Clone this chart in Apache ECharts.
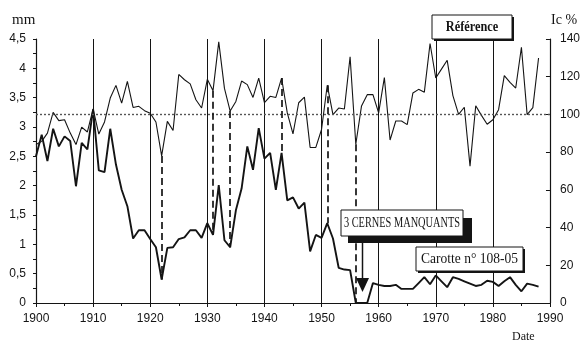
<!DOCTYPE html>
<html>
<head>
<meta charset="utf-8">
<script src="https://cdn.jsdelivr.net/npm/echarts@6/dist/echarts.min.js"></script>
<style>
  html, body { margin: 0; padding: 0; background: #fff; }
  #chart { width: 583px; height: 341px; }
</style>
</head>
<body>
<div id="chart"></div>
<script>
// Years of the series (1900 - 1988)
const years = [];
for (let y = 1900; y <= 1988; y++) years.push(y);

// Ring width, mm (left axis)
const ringWidth = [
  2.50, 2.87, 2.42, 2.97, 2.67, 2.84, 2.76, 1.99, 2.73, 2.62,
  3.30, 2.26, 2.23, 2.97, 2.36, 1.93, 1.65, 1.10, 1.24, 1.24,
  1.09, 0.95, 0.40, 0.94, 0.95, 1.09, 1.12, 1.24, 1.24, 1.11,
  1.36, 1.16, 2.01, 1.07, 0.95, 1.58, 1.95, 2.67, 2.27, 2.98,
  2.46, 2.56, 1.93, 2.56, 1.75, 1.80, 1.61, 1.71, 0.88, 1.16,
  1.11, 1.36, 1.10, 0.60, 0.57, 0.56, 0.00, 0.00, 0.00, 0.34,
  0.31, 0.29, 0.29, 0.31, 0.24, 0.24, 0.24, 0.34, 0.44, 0.32,
  0.47, 0.37, 0.27, 0.44, 0.41, 0.37, 0.33, 0.29, 0.31, 0.38,
  0.36, 0.29, 0.37, 0.44, 0.31, 0.20, 0.33, 0.31, 0.28
];

// Growth index Ic, % (right axis)
const growthIndex = [
  84.0, 85.7, 90.1, 101.1, 96.7, 97.2, 90.1, 84.0, 93.3, 90.7,
  103.0, 89.6, 96.0, 108.7, 115.4, 106.0, 117.5, 103.7, 104.3, 102.0,
  100.6, 96.0, 78.0, 96.3, 91.5, 121.2, 118.4, 116.2, 107.8, 103.4,
  118.6, 112.6, 138.5, 113.8, 101.8, 106.9, 117.7, 115.8, 109.0, 119.3,
  106.2, 109.6, 109.0, 119.3, 100.8, 89.7, 106.2, 109.2, 82.5, 82.5,
  92.0, 115.5, 99.9, 103.4, 102.9, 130.6, 84.2, 104.5, 110.5, 110.5,
  100.8, 119.5, 86.4, 96.5, 96.5, 94.6, 111.4, 113.3, 111.8, 137.6,
  119.3, 124.0, 128.7, 110.0, 100.0, 103.8, 72.6, 104.6, 99.5, 94.8,
  97.2, 102.5, 120.6, 117.0, 114.0, 135.6, 99.9, 103.6, 129.9
];

// Years where a low index is linked to the ring width
const linkedYears = [1922, 1931, 1934, 1943, 1951, 1956];

// Axis ranges
const mmMax = 4.5, mmStep = 0.5;
const icMax = 140, icStep = 20;
const icReference = 100;

const ink = '#141414';
const sans = '"Liberation Sans", Arial, sans-serif';
const serif = '"Liberation Serif", "DejaVu Serif", serif';

const widthSeries = years.map((y, i) => [y, ringWidth[i]]);
const indexSeries = years.map((y, i) => [y, growthIndex[i]]);

// Dashed connectors: index value expressed on the mm scale
const links = linkedYears.map(y => {
  const i = years.indexOf(y);
  return [
    { coord: [y, growthIndex[i] * mmMax / icMax] },
    { coord: [y, ringWidth[i]] }
  ];
});

// Horizontally condensed text label for the annotation boxes
function boxText(text, x, y, font, sx) {
  return {
    type: 'text', x: x, y: y, scaleX: sx, z: 22,
    style: { text: text, font: font, fill: ink, align: 'center', verticalAlign: 'middle' }
  };
}

const chart = echarts.init(document.getElementById('chart'), null, { renderer: 'canvas' });

chart.setOption({
  animation: false,
  backgroundColor: '#fff',
  grid: { left: 36, right: 31, top: 39, bottom: 38 },
  xAxis: {
    type: 'value', min: 1900, max: 1990, interval: 10,
    axisLine: { show: true, lineStyle: { color: ink, width: 1.2 } },
    axisTick: { show: true, length: 4, lineStyle: { color: ink } },
    minorTick: { show: true, splitNumber: 2, length: 3, lineStyle: { color: ink } },
    splitLine: { show: true, lineStyle: { color: ink, width: 1 } },
    axisLabel: { color: ink, fontFamily: sans, fontSize: 12, margin: 10, formatter: v => String(v) }
  },
  yAxis: [
    {
      type: 'value', min: 0, max: mmMax, interval: mmStep,
      axisLine: { show: true, lineStyle: { color: ink, width: 1.2 } },
      axisTick: { show: true, length: 3, lineStyle: { color: ink } },
      minorTick: { show: true, splitNumber: 2, length: 3, lineStyle: { color: ink } },
      splitLine: { show: false },
      axisLabel: { color: ink, fontFamily: sans, fontSize: 12, margin: 10,
        formatter: v => String(v).replace('.', ',') }
    },
    {
      type: 'value', min: 0, max: icMax, interval: icStep, position: 'right',
      axisLine: { show: true, lineStyle: { color: ink, width: 1.2 } },
      axisTick: { show: true, inside: true, length: 4, lineStyle: { color: ink } },
      splitLine: { show: false },
      axisLabel: { color: ink, fontFamily: sans, fontSize: 12, margin: 10 }
    }
  ],
  series: [
    {
      name: 'Ic', type: 'line', yAxisIndex: 1, data: indexSeries,
      symbol: 'none', lineStyle: { color: ink, width: 1.1 }, z: 3,
      markLine: {
        silent: true, symbol: 'none', label: { show: false },
        lineStyle: { color: '#555', type: [2, 2], width: 1.4 },
        data: [{ yAxis: icReference }]
      }
    },
    {
      name: 'mm', type: 'line', yAxisIndex: 0, data: widthSeries,
      symbol: 'none', lineStyle: { color: ink, width: 1.9 }, z: 4,
      markLine: {
        silent: true, symbol: 'none', label: { show: false },
        lineStyle: { color: ink, type: [7, 4], width: 1.7 },
        data: links
      }
    }
  ],
  graphic: [
    { type: 'text', left: 12, top: 13, style: { text: 'mm', font: '15px ' + serif, fill: ink } },
    { type: 'text', left: 551, top: 13, style: { text: 'Ic %', font: '14px ' + serif, fill: ink } },
    { type: 'text', left: 512, top: 331, style: { text: 'Date', font: '12px ' + serif, fill: ink } },

    // "Référence" box with a small drop shadow
    { type: 'rect', shape: { x: 434, y: 17, width: 80, height: 24 }, style: { fill: ink }, z: 20 },
    { type: 'rect', shape: { x: 432, y: 15, width: 80, height: 24 }, style: { fill: '#fff', stroke: ink, lineWidth: 1 }, z: 21 },
    boxText('Référence', 472, 27.5, 'bold 14px ' + serif, 0.88),

    // "3 CERNES MANQUANTS" box with heavy shadow and arrow
    { type: 'rect', shape: { x: 348, y: 218, width: 124, height: 25 }, style: { fill: ink }, z: 20 },
    { type: 'rect', shape: { x: 341, y: 210, width: 122, height: 26 }, style: { fill: '#fff', stroke: ink, lineWidth: 1 }, z: 21 },
    boxText('3 CERNES MANQUANTS', 402, 223.5, '15px ' + serif, 0.69),
    { type: 'line', shape: { x1: 362.5, y1: 243, x2: 362.5, y2: 280 }, style: { stroke: ink, lineWidth: 1.5 }, z: 20 },
    { type: 'polygon', shape: { points: [[356, 278], [369, 278], [362.5, 292]] }, style: { fill: ink }, z: 20 },

    // "Carotte" box
    { type: 'rect', shape: { x: 418, y: 249, width: 107, height: 24 }, style: { fill: ink }, z: 20 },
    { type: 'rect', shape: { x: 416, y: 247, width: 107, height: 24 }, style: { fill: '#fff', stroke: ink, lineWidth: 1 }, z: 21 },
    boxText('Carotte n° 108-05', 469.5, 259.5, '15px ' + serif, 0.9)
  ]
});
</script>
</body>
</html>
